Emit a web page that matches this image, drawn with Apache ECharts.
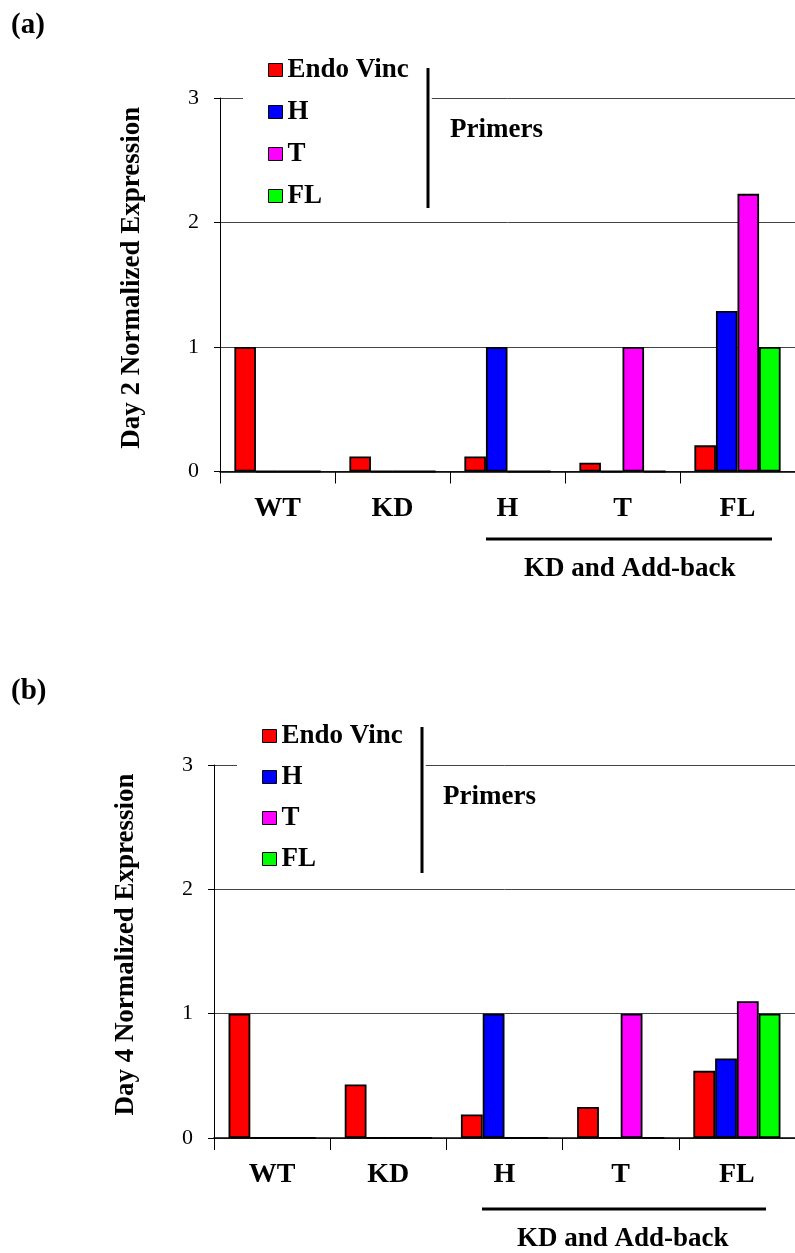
<!DOCTYPE html>
<html>
<head>
<meta charset="utf-8">
<script src="https://cdn.jsdelivr.net/npm/echarts@6/dist/echarts.min.js"></script>
<style>
html,body{margin:0;padding:0;background:#fff;}
#chart{width:795px;height:1253px;}
</style>
</head>
<body>
<div id="chart"></div>
<script>
// ---- data ----
var categories = ['WT', 'KD', 'H', 'T', 'FL'];
var seriesNames = ['Endo Vinc', 'H', 'T', 'FL'];
var yTicks = [0, 1, 2, 3];

var day2Endo = [1.0, 0.12, 0.12, 0.07, 0.21];
var day2H    = [0, 0, 1.0, 0, 1.29];
var day2T    = [0, 0, 0, 1.0, 2.23];
var day2FL   = [0, 0, 0, 0, 1.0];

var day4Endo = [1.0, 0.43, 0.19, 0.25, 0.54];
var day4H    = [0, 0, 1.0, 0, 0.64];
var day4T    = [0, 0, 0, 1.0, 1.10];
var day4FL   = [0, 0, 0, 0, 1.0];

var colors = ['#ff0000', '#0000ff', '#ff00ff', '#00ff00'];
var SERIF = '"Liberation Serif", "Times New Roman", serif';

var chart = echarts.init(document.getElementById('chart'), null, {renderer: 'canvas'});

function yAxisCfg(gridIndex, name) {
  return {
    type: 'value', gridIndex: gridIndex, min: yTicks[0], max: yTicks[yTicks.length - 1], interval: 1,
    name: name, nameLocation: 'middle', nameGap: 74, nameRotate: 90,
    nameTextStyle: {fontFamily: SERIF, fontWeight: 'bold', fontSize: 27, color: '#000', padding: [0, 0, 0, 14]},
    axisLine: {show: true, lineStyle: {color: '#000', width: 1}},
    axisTick: {show: true, length: 6, lineStyle: {color: '#000'}},
    axisLabel: {fontFamily: SERIF, fontSize: 22, color: '#000', margin: 21},
    splitLine: {show: true, lineStyle: {color: '#444', width: 1}}
  };
}
function xAxisCfg(gridIndex) {
  return {
    type: 'category', gridIndex: gridIndex, data: categories, boundaryGap: true,
    axisLine: {show: true, lineStyle: {color: '#000', width: 1.5}},
    axisTick: {show: true, length: 12, lineStyle: {color: '#000'}},
    axisLabel: {fontFamily: SERIF, fontWeight: 'bold', fontSize: 28, color: '#000', margin: 23}
  };
}
function barSeries(name, data, idx, gridIdx) {
  return {
    name: name, type: 'bar', data: data, xAxisIndex: gridIdx, yAxisIndex: gridIdx,
    barGap: 0, barCategoryGap: '25%',
    itemStyle: {color: colors[idx], borderColor: '#000', borderWidth: 1.8},
    emphasis: {disabled: true}, animation: false
  };
}
function legendCfg(top, left, gap) {
  return {
    orient: 'vertical', left: left, top: top, data: seriesNames,
    icon: 'rect', itemWidth: 14, itemHeight: 13, itemGap: gap,
    backgroundColor: '#fff', padding: [5, 23, 5, 25],
    itemStyle: {borderColor: '#000', borderWidth: 1},
    textStyle: {fontFamily: SERIF, fontWeight: 'bold', fontSize: 27, color: '#000', lineHeight: 28},
    selectedMode: false
  };
}
function txt(x, y, s) {
  return {type: 'text', left: x, top: y, z: 100,
    style: {text: s, fontFamily: SERIF, fontWeight: 'bold', fontSize: 27, fill: '#000'}};
}
function line(x1, y1, x2, y2, w) {
  return {type: 'line', z: 100, shape: {x1: x1, y1: y1, x2: x2, y2: y2}, style: {stroke: '#000', lineWidth: w}};
}

var option = {
  backgroundColor: '#fff',
  animation: false,
  grid: [
    {left: 220, top: 98, width: 585, height: 373.5, containLabel: false},
    {left: 214, top: 765, width: 583.5, height: 373, containLabel: false}
  ],
  xAxis: [xAxisCfg(0), xAxisCfg(1)],
  yAxis: [yAxisCfg(0, 'Day 2 Normalized Expression'), yAxisCfg(1, 'Day 4 Normalized Expression')],
  legend: [legendCfg(51, 243, 14), legendCfg(717, 237, 13)],
  series: [
    barSeries(seriesNames[0], day2Endo, 0, 0),
    barSeries(seriesNames[1], day2H, 1, 0),
    barSeries(seriesNames[2], day2T, 2, 0),
    barSeries(seriesNames[3], day2FL, 3, 0),
    barSeries(seriesNames[0], day4Endo, 0, 1),
    barSeries(seriesNames[1], day4H, 1, 1),
    barSeries(seriesNames[2], day4T, 2, 1),
    barSeries(seriesNames[3], day4FL, 3, 1)
  ],
  graphic: [
    {type: 'text', left: 11, top: 11, z: 100, style: {text: '(a)', fontFamily: SERIF, fontWeight: 'bold', fontSize: 29, fill: '#000'}},
    {type: 'text', left: 11, top: 677, z: 100, style: {text: '(b)', fontFamily: SERIF, fontWeight: 'bold', fontSize: 29, fill: '#000'}},
    line(428, 68, 428, 208, 3),
    line(422, 727, 422, 873, 3),
    txt(450, 117, 'Primers'),
    txt(443, 784, 'Primers'),
    line(486, 539, 772, 539, 3),
    line(482, 1209, 766, 1209, 3),
    txt(524, 556, 'KD and Add-back'),
    txt(517, 1226, 'KD and Add-back')
  ]
};
chart.setOption(option);
</script>
</body>
</html>
